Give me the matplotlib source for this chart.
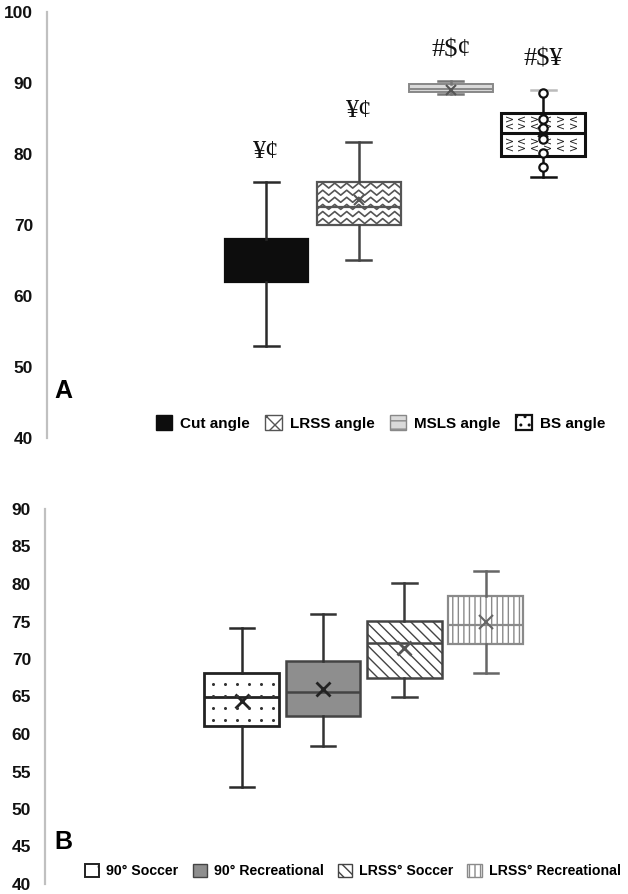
import numpy as np
import matplotlib.pyplot as plt
from matplotlib.patches import Patch

plt.rcParams['font.family'] = ['Liberation Sans', 'DejaVu Sans']
plt.rcParams['hatch.linewidth'] = 1.0

# panel A
a_names = ['Cut angle', 'LRSS angle', 'MSLS angle', 'BS angle']
a_whislo = [53, 65, 88.4, 76.7]
a_q1 = [62, 70, 88.7, 79.7]
a_med = [65, 72.5, 89.2, 83.0]
a_q3 = [68, 76, 89.8, 85.8]
a_whishi = [76, 81.7, 90.3, 89.0]
a_mean = [65, 73.5, 89.0, 83.1]
a_marks = ['¥¢', '¥¢', '#$¢', '#$¥']
bs_points = [88.6, 85.0, 83.6, 82.1, 80.2, 78.1]

# panel B
b_names = ['90° Soccer', '90° Recreational', 'LRSS° Soccer', 'LRSS° Recreational']
b_whislo = [53, 58.4, 65, 68.1]
b_q1 = [61.1, 62.4, 67.5, 72.0]
b_med = [65, 65.6, 72.2, 74.5]
b_q3 = [68.2, 69.8, 75.1, 78.4]
b_whishi = [74.1, 76, 80.1, 81.7]
b_mean = [64.4, 66, 71.5, 75.0]


def make_stats(lo, q1, med, q3, hi, mean):
    return [dict(whislo=a, q1=b, med=c, q3=d, whishi=e, mean=f, fliers=[])
            for a, b, c, d, e, f in zip(lo, q1, med, q3, hi, mean)]


def style_axis(ax, ticks):
    for s in ['top', 'right', 'bottom']:
        ax.spines[s].set_visible(False)
    ax.spines['left'].set_color('#c0c0c0')
    ax.spines['left'].set_linewidth(1.6)
    ax.set_xticks([])
    ax.set_yticks(ticks, [str(t) for t in ticks], fontweight='bold', fontsize=12.5)
    ax.tick_params(axis='y', length=0, pad=10, colors='#111111')
    ax.set_facecolor('none')


def box_style(res, i, face, edge, hatch=None, lw=1.6, wcolor='#333333'):
    b = res['boxes'][i]
    b.set_facecolor(face)
    b.set_edgecolor(edge)
    b.set_linewidth(lw)
    if hatch:
        b.set_hatch(hatch)
    for art in res['whiskers'][2 * i:2 * i + 2] + res['caps'][2 * i:2 * i + 2]:
        art.set_color(wcolor)
        art.set_linewidth(1.8)
    res['medians'][i].set_color(edge)
    res['medians'][i].set_linewidth(lw)


def texture(ax, patch, xs, ys, marker, ms, color, alt=None):
    # small repeated marks clipped to a box
    for r, yy in enumerate(ys):
        for c, xx in enumerate(xs):
            m = alt if (alt and (r + c) % 2) else marker
            pt, = ax.plot(xx, yy, marker=m, ms=ms, color=color, mew=0, zorder=2.5)
            pt.set_clip_path(patch)


fig = plt.figure(figsize=(6.28, 8.94), dpi=100)

# ---------------- panel A ----------------
axA = fig.add_axes([47 / 628, (894 - 438) / 894, 1 - 47 / 628, 426 / 894])
posA = np.arange(1, len(a_names) + 1)
wA = 0.91
resA = axA.bxp(make_stats(a_whislo, a_q1, a_med, a_q3, a_whishi, a_mean),
               positions=posA, widths=wA, patch_artist=True, showmeans=True,
               showfliers=False, capwidths=0.27, manage_ticks=False,
               meanprops=dict(marker='x', markeredgecolor='#555555', markersize=7, markeredgewidth=1.5))
box_style(resA, 0, '#0d0d0d', '#0d0d0d', wcolor='#2a2a2a')
box_style(resA, 1, 'white', '#555555', wcolor='#444444')
box_style(resA, 2, '#dadada', '#888888', hatch='-', lw=1.4, wcolor='#777777')
box_style(resA, 3, 'white', '#111111', lw=2.2, wcolor='#111111')
resA['caps'][7].set_color('#bbbbbb')
resA['means'][0].set_visible(False)
resA['means'][3].set_markeredgecolor('#111111')

# zigzag texture for LRSS box
zb = resA['boxes'][1]
x0, x1 = posA[1] - wA / 2, posA[1] + wA / 2
xs = np.arange(x0, x1 + 0.07, 0.065)
for yy in np.arange(a_q1[1] + 0.55, a_q3[1], 1.0):
    ys = yy + np.where(np.arange(len(xs)) % 2 == 0, -0.35, 0.35)
    ln, = axA.plot(xs, ys, color='#555555', lw=1.2, zorder=2.5)
    ln.set_clip_path(zb)

# chevron texture for BS box, two rows in each half
x0, x1 = posA[3] - wA / 2, posA[3] + wA / 2
rows = np.concatenate([np.linspace(a_q1[3], a_med[3], 4)[1:-1],
                       np.linspace(a_med[3], a_q3[3], 4)[1:-1]])
texture(axA, resA['boxes'][3], np.arange(x0 + 0.08, x1, 0.14), rows,
        '$<$', 5, '#222222', alt='$>$')

axA.plot([posA[3]] * len(bs_points), bs_points, 'o', mfc='white', mec='#111111',
         ms=6, mew=1.6, zorder=5)

for p, m, hi in zip(posA, a_marks, a_whishi):
    axA.text(p, hi + 4.3, m, ha='center', va='center', fontsize=19,
             family=['Liberation Serif', 'DejaVu Serif'], color='#111111')

axA.set_xlim(-1.38, 4.92)
axA.set_ylim(40, 100)
style_axis(axA, list(range(40, 101, 10)))

fig.text(63 / 628, 1 - 391 / 894, 'A', ha='center', va='center', fontsize=18,
         fontweight='bold')

hA = [Patch(facecolor='#0d0d0d', edgecolor='#0d0d0d'),
      Patch(facecolor='white', edgecolor='#555555', hatch='xx'),
      Patch(facecolor='#dadada', edgecolor='#888888', hatch='--'),
      Patch(facecolor='white', edgecolor='#111111', hatch='..', linewidth=1.6)]
fig.legend(hA, a_names, loc='center left', bbox_to_anchor=(156 / 628, 1 - 423 / 894),
           ncol=4, frameon=False, handlelength=1.05, handleheight=1.05,
           handletextpad=0.55, columnspacing=1.0, borderpad=0, borderaxespad=0,
           prop=dict(weight='bold', size=11))

# ---------------- panel B ----------------
axB = fig.add_axes([45 / 628, (894 - 884) / 894, 1 - 45 / 628, 375 / 894])
posB = np.arange(1, len(b_names) + 1)
wB = 0.92
resB = axB.bxp(make_stats(b_whislo, b_q1, b_med, b_q3, b_whishi, b_mean),
               positions=posB, widths=wB, patch_artist=True, showmeans=True,
               showfliers=False, capwidths=0.3, manage_ticks=False,
               meanprops=dict(marker='x', markeredgecolor='#222222', markersize=10, markeredgewidth=2))
box_style(resB, 0, 'white', '#222222', lw=2, wcolor='#2a2a2a')
box_style(resB, 1, '#8e8e8e', '#444444', lw=1.8, wcolor='#333333')
box_style(resB, 2, 'white', '#444444', hatch='\\\\\\', lw=1.8, wcolor='#3a3a3a')
box_style(resB, 3, 'white', '#8a8a8a', hatch='|||', lw=1.6, wcolor='#666666')
resB['means'][2].set_markeredgecolor('#555555')
resB['means'][3].set_markeredgecolor('#666666')
resB['means'][3].set_markeredgewidth(1.5)

# dotted texture for 90 Soccer box
x0, x1 = posB[0] - wB / 2, posB[0] + wB / 2
texture(axB, resB['boxes'][0], np.arange(x0 + 0.1, x1, 0.15),
        np.arange(b_q1[0] + 0.8, b_q3[0], 1.6), 'o', 2.2, '#333333')

axB.set_xlim(-1.42, 5.75)
axB.set_ylim(40, 90)
style_axis(axB, list(range(40, 91, 5)))

fig.text(63 / 628, 1 - 842 / 894, 'B', ha='center', va='center', fontsize=18,
         fontweight='bold')

hB = [Patch(facecolor='white', edgecolor='#222222', hatch='.', linewidth=1.4),
      Patch(facecolor='#8e8e8e', edgecolor='#444444'),
      Patch(facecolor='white', edgecolor='#444444', hatch='\\\\\\'),
      Patch(facecolor='white', edgecolor='#8a8a8a', hatch='|||')]
fig.legend(hB, b_names, loc='center left', bbox_to_anchor=(85 / 628, 1 - 871 / 894),
           ncol=4, frameon=False, handlelength=1.0, handleheight=1.0,
           handletextpad=0.5, columnspacing=1.0, borderpad=0, borderaxespad=0,
           prop=dict(weight='bold', size=10.2))

fig.savefig('out.png', dpi=100)
